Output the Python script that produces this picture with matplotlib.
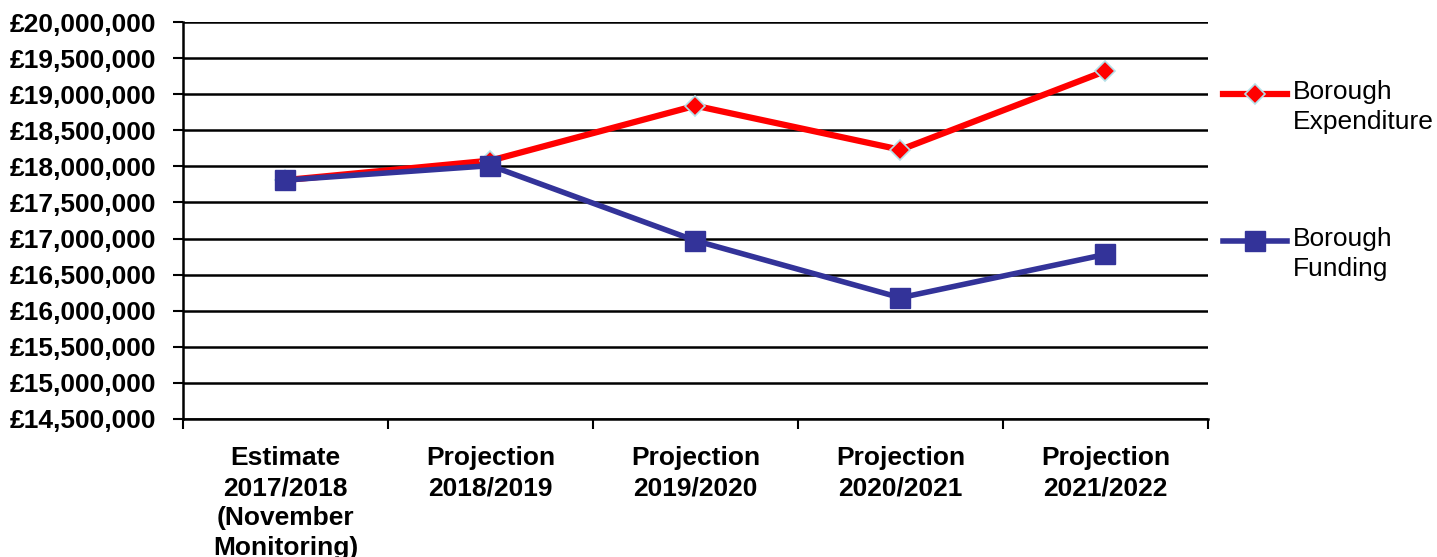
import matplotlib.pyplot as plt
from matplotlib.ticker import FuncFormatter
from matplotlib.legend_handler import HandlerLine2D

plt.rcParams['font.family'] = ['Liberation Sans', 'DejaVu Sans']

categories = ["Estimate\n2017/2018\n(November\nMonitoring)",
              "Projection\n2018/2019",
              "Projection\n2019/2020",
              "Projection\n2020/2021",
              "Projection\n2021/2022"]
expenditure = [17810000, 18080000, 18840000, 18230000, 19320000]
funding = [17810000, 18010000, 16970000, 16180000, 16780000]


class FirstLineHandler(HandlerLine2D):
    # put the legend line level with the first line of a two-line label
    def create_artists(self, legend, orig_handle, xdescent, ydescent,
                       width, height, fontsize, trans):
        arts = super().create_artists(legend, orig_handle, xdescent, ydescent,
                                      width, height, fontsize, trans)
        for a in arts:
            a.set_ydata(a.get_ydata() + 0.5 * fontsize)
        return arts


fig = plt.figure(figsize=(14.37, 5.57), dpi=100)
ax = fig.add_axes([0.1273, 0.2478, 0.8406 - 0.1273, 0.9605 - 0.2478])

x = range(len(categories))
ax.plot(x, expenditure, color='#ff0000', lw=4.5, marker='D', markersize=10,
        markerfacecolor='#ff0000', markeredgecolor='#b4e0e8', markeredgewidth=1.2,
        label='Borough\nExpenditure', zorder=3)
ax.plot(x, funding, color='#333399', lw=4.0, marker='s', markersize=15,
        markerfacecolor='#333399', markeredgecolor='#333399',
        label='Borough\nFunding', zorder=4)

ax.set_xlim(-0.5, len(categories) - 0.5)
ax.set_ylim(14500000, 20000000)
ax.set_yticks(range(14500000, 20000001, 500000))
ax.yaxis.set_major_formatter(FuncFormatter(lambda v, p: '£{:,.0f}'.format(v)))
ax.grid(axis='y', color='black', lw=1.8)
ax.set_axisbelow(True)

# category ticks between groups, labels centred
ax.set_xticks([i - 0.5 for i in range(len(categories) + 1)])
ax.set_xticklabels([])
ax.set_xticks(list(x), minor=True)
ax.set_xticklabels(categories, minor=True, fontsize=19, fontweight='bold', linespacing=1.32)
ax.tick_params(axis='x', which='minor', length=0, pad=19.5)
ax.tick_params(axis='x', which='major', length=7, width=1.5, direction='out')
ax.tick_params(axis='y', length=7, width=1.5, pad=12)
for lab in ax.get_yticklabels():
    lab.set_fontsize(19)
    lab.set_fontweight('bold')

for s in ['top', 'right']:
    ax.spines[s].set_visible(False)
ax.spines['left'].set_linewidth(1.8)
ax.spines['bottom'].set_linewidth(1.8)

hmap = {l: FirstLineHandler() for l in ax.get_lines()}
leg = ax.legend(loc='upper left', bbox_to_anchor=(1.0146, 0.853), frameon=False,
                fontsize=19, handlelength=2.42, handletextpad=0.23, labelspacing=3.5,
                borderpad=0, borderaxespad=0, handler_map=hmap)
for t in leg.get_texts():
    t.set_linespacing(1.32)

fig.savefig('out.png', dpi=100)
